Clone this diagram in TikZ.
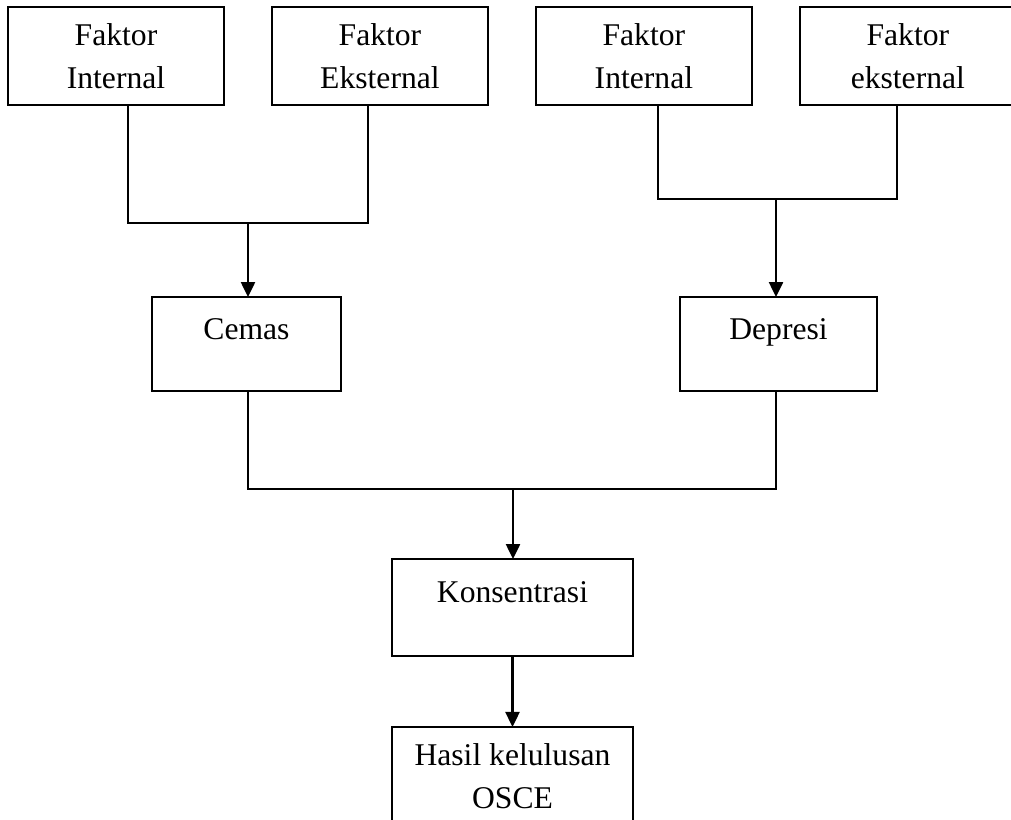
\documentclass[tikz,border=0pt]{standalone}
\usepackage{fontspec}
\setmainfont{Liberation Serif}
\usetikzlibrary{arrows.meta, positioning}

\begin{document}
\begin{tikzpicture}[
  x=0.02cm, y=-0.02cm,
  box/.style    = {draw, line width=1pt, inner sep=0pt, outer sep=0pt,
                   minimum width=4.32cm, minimum height=1.96cm, align=center,
                   font=\fontsize{18}{24.5}\selectfont},
  topbox/.style = {box, text height=0.42cm, text depth=0.62cm},
  line/.style   = {line width=0.75pt},
  arr/.style    = {-{Triangle[length=0.3cm, width=0.28cm]}, line width=1.4pt},
  node distance = 0.96cm
]
\useasboundingbox (0,0) rectangle (1011,819);
\clip (0,0) rectangle (1011,819);

\node[box]                (intA) at (116,56) {Faktor\\Internal};
\node[box, right=of intA] (eksA) {Faktor\\Eksternal};
\node[box, right=of eksA] (intB) {Faktor\\Internal};
\node[box, right=of intB] (eksB) {Faktor\\eksternal};

\node[topbox, minimum width=3.78cm, minimum height=1.88cm] (cemas)   at (246.5,344) {Cemas};
\node[topbox, minimum width=3.94cm, minimum height=1.88cm] (depresi) at (778.5,344) {Depresi};
\node[topbox, minimum width=4.82cm, minimum height=1.94cm] (kons)    at (512.5,607.5) {Konsentrasi};
\node[box, minimum width=4.82cm, below=1.42cm of kons]     (hasil)   {Hasil kelulusan\\OSCE};

\coordinate (jA) at (248,223);
\coordinate (jB) at (776,199);
\coordinate (jC) at (513,489);

\draw[line] ([xshift=0.24cm]intA.south) |- (jA) -| ([xshift=-0.24cm]eksA.south);
\draw[line] ([xshift=0.28cm]intB.south) |- (jB) -| ([xshift=-0.22cm]eksB.south);
\draw[line] (jA |- cemas.south) |- (jC) -| (jB |- depresi.south);

\foreach \j/\n in {jA/cemas, jB/depresi, jC/kons}
  \draw[arr] (\j) -- (\j |- \n.north);
\draw[arr] (kons.south) -- (hasil.north);
\end{tikzpicture}
\end{document}
